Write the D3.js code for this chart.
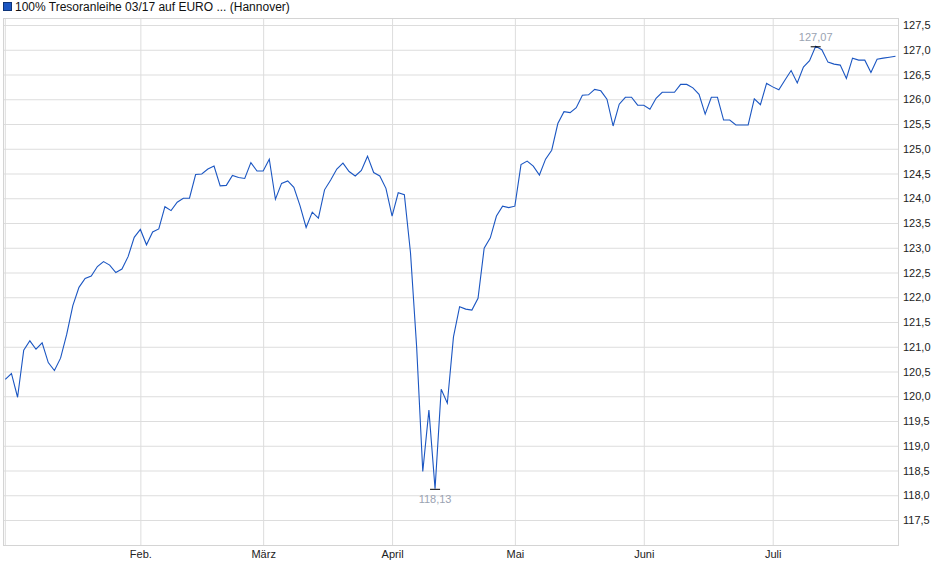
<!DOCTYPE html>
<html>
<head>
<meta charset="utf-8">
<script src="https://cdn.jsdelivr.net/npm/d3@7"></script>
<style>
  body { margin: 0; background: #fff; }
  text { font-family: "Liberation Sans", Arial, sans-serif; }
</style>
</head>
<body>
<div id="chart"></div>
<script>
// Closing prices, one per trading day (2 Jan .. 29 Jul)
const prices = [
  120.34, 120.46, 119.98, 120.93, 121.12, 120.95, 121.08, 120.68, 120.52, 120.77,
  121.25, 121.83, 122.20, 122.38, 122.43, 122.62, 122.72, 122.65, 122.50, 122.57,
  122.82, 123.21, 123.37, 123.06, 123.32, 123.38, 123.83, 123.75, 123.92, 124.00,
  124.00, 124.48, 124.49, 124.59, 124.65, 124.25, 124.26, 124.46, 124.42, 124.40,
  124.72, 124.55, 124.55, 124.79, 123.98, 124.30, 124.35, 124.22, 123.85, 123.41,
  123.72, 123.60, 124.17, 124.37, 124.59, 124.71, 124.54, 124.45, 124.56, 124.85,
  124.52, 124.45, 124.20, 123.64, 124.11, 124.07, 122.90, 121.00, 118.48, 119.72,
  118.13, 120.14, 119.86, 121.20, 121.81, 121.76, 121.74, 121.98, 122.99, 123.20,
  123.64, 123.84, 123.81, 123.84, 124.68, 124.75, 124.65, 124.47, 124.79, 124.97,
  125.51, 125.75, 125.73, 125.83, 126.08, 126.09, 126.20, 126.17, 126.00, 125.46,
  125.90, 126.04, 126.04, 125.88, 125.88, 125.80, 126.02, 126.14, 126.14, 126.14,
  126.30, 126.30, 126.23, 126.10, 125.70, 126.04, 126.04, 125.58, 125.58, 125.48,
  125.48, 125.48, 126.01, 125.89, 126.32, 126.25, 126.19, 126.39, 126.58, 126.33,
  126.65, 126.78, 127.07, 127.00, 126.75, 126.71, 126.69, 126.42, 126.83, 126.79,
  126.79, 126.54, 126.81, 126.83, 126.85, 126.87
];

// Month labels and the trading-day index where each month starts
const monthLabels = ["Feb.", "März", "April", "Mai", "Juni", "Juli"];
const monthStarts = [22, 42, 63, 83, 104, 125];

const yTicks = [117.5, 118.0, 118.5, 119.0, 119.5, 120.0, 120.5, 121.0, 121.5, 122.0,
  122.5, 123.0, 123.5, 124.0, 124.5, 125.0, 125.5, 126.0, 126.5, 127.0, 127.5];

const title = "100% Tresoranleihe 03/17 auf EURO ... (Hannover)";

const W = 940, H = 579;
const plot = { left: 3, right: 898, top: 18, bottom: 545 };
const lineColor = "#1b56c2";
const gridColor = "#dddddd";
const fmt = v => d3.format(".1f")(v).replace(".", ",");
const fmt2 = v => d3.format(".2f")(v).replace(".", ",");

const svg = d3.select("#chart").append("svg")
  .attr("width", W)
  .attr("height", H);

const x = d3.scaleLinear()
  .domain([0, prices.length - 1])
  .range([5.3, 895.5]);

const y = d3.scaleLinear()
  .domain([117.5, 127.5])
  .range([520, 25]);

// horizontal grid + right axis labels
svg.append("g")
  .attr("transform", `translate(${plot.right},0)`)
  .call(d3.axisRight(y).tickValues(yTicks).tickFormat(fmt)
    .tickSize(-(plot.right - plot.left)).tickPadding(5))
  .call(g => g.select(".domain").remove())
  .call(g => g.selectAll("line").attr("stroke", gridColor))
  .call(g => g.selectAll("text")
    .attr("fill", "#222")
    .style("font-size", "11px")
    .style("font-family", "'Liberation Sans', Arial, sans-serif"));

// vertical grid + month labels
svg.append("g")
  .attr("transform", `translate(0,${plot.bottom})`)
  .call(d3.axisBottom(x).tickValues(monthStarts)
    .tickFormat((d, i) => monthLabels[i])
    .tickSize(-(plot.bottom - plot.top)).tickPadding(5))
  .call(g => g.select(".domain").remove())
  .call(g => g.selectAll("line").attr("stroke", gridColor))
  .call(g => g.selectAll("text")
    .attr("fill", "#222")
    .style("font-size", "11px")
    .style("font-family", "'Liberation Sans', Arial, sans-serif"));

// first-day gridline near left edge
svg.append("line")
  .attr("x1", x(0)).attr("x2", x(0))
  .attr("y1", plot.top).attr("y2", plot.bottom)
  .attr("stroke", gridColor);

// plot frame
svg.append("rect")
  .attr("x", plot.left + 0.5)
  .attr("y", plot.top + 0.5)
  .attr("width", plot.right - plot.left)
  .attr("height", plot.bottom - plot.top)
  .attr("fill", "none")
  .attr("stroke", "#d4d4d4");

// price line
const line = d3.line()
  .x((d, i) => x(i))
  .y(d => y(d));

svg.append("path")
  .datum(prices)
  .attr("d", line)
  .attr("fill", "none")
  .attr("stroke", lineColor)
  .attr("stroke-width", 1.1);

// min / max markers
const minIdx = d3.minIndex(prices);
const maxIdx = d3.maxIndex(prices);

[[minIdx, 1], [maxIdx, -1]].forEach(([i, dir]) => {
  const px = x(i), py = y(prices[i]);
  svg.append("line")
    .attr("x1", px - 5).attr("x2", px + 5)
    .attr("y1", py + 0.5).attr("y2", py + 0.5)
    .attr("stroke", "#000");
  svg.append("text")
    .attr("x", px)
    .attr("y", dir > 0 ? py + 14 : py - 5)
    .attr("text-anchor", "middle")
    .attr("fill", "#9aa3b2")
    .style("font-size", "11px")
    .text(fmt2(prices[i]));
});

// legend
svg.append("rect")
  .attr("x", 3.5).attr("y", 2.5)
  .attr("width", 8).attr("height", 8)
  .attr("fill", lineColor)
  .attr("stroke", "#0e3478");

svg.append("text")
  .attr("x", 15)
  .attr("y", 11)
  .attr("fill", "#111")
  .style("font-size", "12px")
  .text(title);
</script>
</body>
</html>
